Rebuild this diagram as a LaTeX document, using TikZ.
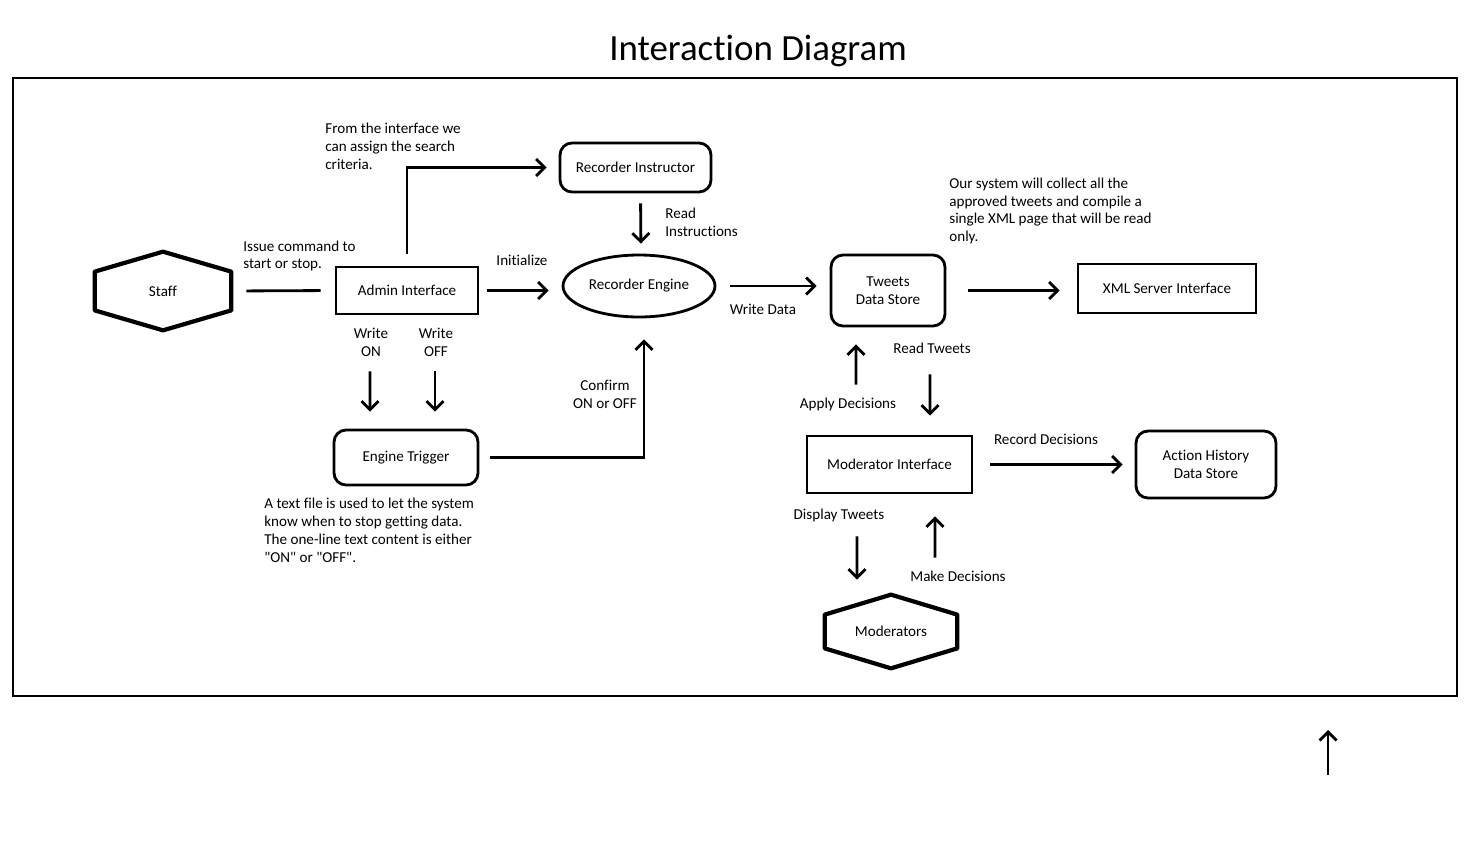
\documentclass[tikz,border=0pt]{standalone}
\usepackage{fontspec}
\setmainfont{Carlito}[Ligatures={TeX,NoCommon}]
\usetikzlibrary{arrows.meta,shapes.geometric}

\begin{document}
\begin{tikzpicture}[
        x=0.02cm, y=-0.02cm,
        every node/.style={font=\fontsize{8.6pt}{10.2pt}\selectfont},
        box/.style={
          draw, line width=1.6pt,
          minimum width=#1, minimum height=0.96cm, align=center,
        },
        rbox/.style={
          draw, line width=1.6pt, rounded corners=0.24cm,
          minimum width=#1, align=center,
        },
        hexa/.style={
          minimum width=#1,
          append after command={\pgfextra{
            \draw[line width=2.4pt, line join=round]
              (\tikzlastnode.north)
              -- ([yshift=-0.4cm]\tikzlastnode.north east)
              -- ([yshift=0.4cm]\tikzlastnode.south east)
              -- (\tikzlastnode.south)
              -- ([yshift=0.4cm]\tikzlastnode.south west)
              -- ([yshift=-0.4cm]\tikzlastnode.north west) -- cycle;
          }},
        },
        arr/.style={-{Straight Barb[length=0.17cm, width=0.34cm]}, line width=1.6pt},
        ln/.style={line width=1.6pt},
        lbl/.style={align=left, inner xsep=0pt},
        frame/.style={line width=0.6pt},
      ]
      \useasboundingbox (0,0) rectangle (1474,862);
      \node[font=\fontsize{21pt}{24pt}\selectfont] (title) at (758,51) {Interaction Diagram};
      \draw[frame] (13,78) rectangle (1457,696);

      \node[hexa=2.72cm, minimum height=1.56cm] (staff) at (163,291) {Staff};
      \node[box=2.84cm, minimum height=0.94cm] (admin) at (407,290.5) {Admin Interface};
      \node[rbox=3.02cm, minimum height=0.98cm] (instr) at (635.5,167.5) {Recorder Instructor};
      \node[draw, ellipse, line width=1.6pt, inner sep=0pt, minimum width=3.04cm, minimum height=1.24cm] (engine) at (639,286) {Recorder Engine};
      \node[rbox=2.28cm, minimum height=1.42cm] (tweets) at (888,290.5) {Tweets\\Data Store};
      \node[box=3.56cm, minimum height=0.98cm] (xml) at (1167,288.5) {XML Server Interface};
      \node[rbox=2.88cm, minimum height=1.1cm] (trigger) at (406,457.5) {Engine Trigger};
      \node[box=3.3cm, minimum height=1.14cm] (moder) at (889.5,464.5) {Moderator Interface};
      \node[rbox=2.8cm, minimum height=1.34cm] (action) at (1206,464.5) {Action History\\Data Store};
      \node[hexa=2.64cm, minimum height=1.46cm] (mods) at (891,631.5) {Moderators};

      \draw[ln, shorten <=0.3cm, shorten >=0.28cm] (staff.east) -- (admin.west);
      \draw[arr, shorten <=0.24cm, shorten >=0.24cm] (admin.north) |- (instr.west);
      \draw[arr, shorten <=0.2cm, shorten >=0.2cm] ([xshift=0.1cm]instr.south) -- ([xshift=0.04cm]engine.north);
      \draw[arr, shorten <=0.16cm, shorten >=0.26cm] (admin.east) -- (engine.west |- admin.east);
      \draw[arr, shorten <=0.28cm, shorten >=0.26cm] (engine.east) -- (tweets.west |- engine.east);
      \draw[arr, shorten <=0.44cm, shorten >=0.34cm] (tweets.east) -- (xml.west |- tweets.east);
      \draw[arr, shorten <=1.12cm, shorten >=0.34cm] ([xshift=-0.74cm]admin.south) -- ([xshift=-0.72cm]trigger.north);
      \draw[arr, shorten <=1.12cm, shorten >=0.34cm] ([xshift=0.56cm]admin.south) -- ([xshift=0.58cm]trigger.north);
      \draw[arr, shorten <=0.22cm, shorten >=0.42cm] (trigger.east) -| ([xshift=0.1cm]engine.south);
      \draw[arr, shorten <=1.0cm, shorten >=0.34cm] ([xshift=-0.67cm]moder.north) -- ([xshift=-0.64cm]tweets.south);
      \draw[arr, shorten <=0.94cm, shorten >=0.38cm] ([xshift=0.84cm]tweets.south) -- ([xshift=0.81cm]moder.north);
      \draw[arr, shorten <=0.34cm, shorten >=0.24cm] (moder.east) -- (action.west |- moder.east);
      \draw[arr, shorten <=0.84cm, shorten >=0.3cm] ([xshift=-0.65cm]moder.south) -- ([xshift=-0.68cm]mods.north);
      \draw[arr, shorten <=0.74cm, shorten >=0.44cm] ([xshift=0.88cm]mods.north) -- ([xshift=0.91cm]moder.south);

      \coordinate (s1) at (1328,775);
      \coordinate (s2) at (1328,730);
      \draw[arr] (s1) -- (s2);

      \node[lbl, anchor=west] (issue) at (243,256) {Issue command to\\start or stop.};
      \node[lbl, anchor=west] (assign) at (325,146) {From the interface we\\can assign the search\\criteria.};
      \node[lbl, anchor=west] (read) at (665,222) {Read\\Instructions};
      \node (init) at (522,260) {Initialize};
      \node (wdata) at (763,309) {Write Data};
      \node[lbl, anchor=west] (collect) at (949,211) {Our system will collect all the\\approved tweets and compile a\\single XML page that will be read\\only.};
      \node[align=center] (won) at (371,342) {Write\\ON};
      \node[align=center] (woff) at (436,342) {Write\\OFF};
      \node[align=center] (confirm) at (605,394) {Confirm\\ON or OFF};
      \node[lbl, anchor=west] (textfile) at (264,530) {A text file is used to let the system\\know when to stop getting data.\\The one-line text content is either\\\textquotedbl ON\textquotedbl{} or \textquotedbl OFF\textquotedbl .};
      \node (apply) at (848,404) {Apply Decisions};
      \node (rtweets) at (932,348) {Read Tweets};
      \node (record) at (1046,439) {Record Decisions};
      \node (display) at (839,515) {Display Tweets};
      \node (make) at (958,576) {Make Decisions};
    \end{tikzpicture}
\end{document}
